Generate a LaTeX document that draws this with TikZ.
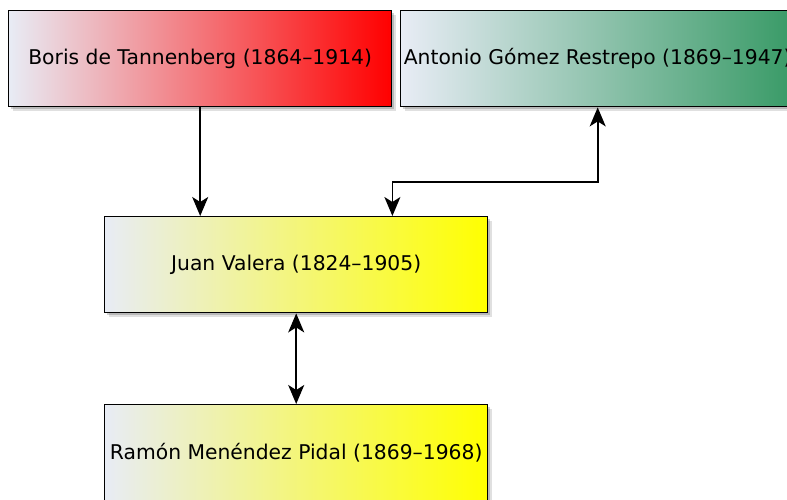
\documentclass[tikz,border=0pt]{standalone}
\usepackage{fontspec}
\setmainfont{DejaVu Sans}
\usetikzlibrary{arrows.meta,positioning,calc,shadows}
\definecolor{ink}{RGB}{0,0,0}
\definecolor{pale}{RGB}{232,236,245}
\definecolor{redend}{RGB}{255,0,0}
\definecolor{greenend}{RGB}{56,154,102}
\definecolor{yellowend}{RGB}{255,255,0}
\tikzset{
  every picture/.style={color=ink, line width=1.6pt},
  person/.style={draw=ink, line width=1.4pt, minimum width=383pt, minimum height=96pt,
    inner sep=0pt, anchor=north west, font=\fontsize{20.3}{22}\selectfont,
    drop shadow={shadow xshift=4pt, shadow yshift=-4.5pt, opacity=0.12, fill=black},
    drop shadow={shadow xshift=2pt, shadow yshift=-2.5pt, opacity=0.18, fill=black}},
  redbox/.style={person, left color=pale, right color=redend},
  greenbox/.style={person, left color=pale, right color=greenend},
  yellowbox/.style={person, left color=pale, right color=yellowend},
  flow/.style={-{Stealth[length=19pt,width=16pt,inset=5pt]}},
  both/.style={{Stealth[length=19pt,width=16pt,inset=5pt]}-{Stealth[length=19pt,width=16pt,inset=5pt]}},
}
\begin{document}
\begin{tikzpicture}[x=1pt, y=-1pt]
  \useasboundingbox (0,0) rectangle (787,500);
  % people
  \node[redbox] (boris) at (8,10) {\raisebox{-3pt}{Boris de Tannenberg (1864–1914)}};
  \node[greenbox, minimum width=394pt] (anton) at (400,10) {\raisebox{-3pt}{Antonio Gómez Restrepo (1869–1947)}};
  \node[yellowbox] (juan) at (104,216) {\raisebox{-3pt}{Juan Valera (1824–1905)}};
  \node[yellowbox] (ramon) at (104,404) {\raisebox{-3pt}{Ramón Menéndez Pidal (1869–1968)}};
  % links
  \coordinate (bend) at (boris.east |- 0,182);
  \draw[flow] (boris.south) -- (boris.south |- juan.north);
  \draw[both] (anton.south) |- (bend) -- (bend |- juan.north);
  \draw[both] (juan.south) -- (ramon.north);
\end{tikzpicture}
\end{document}
